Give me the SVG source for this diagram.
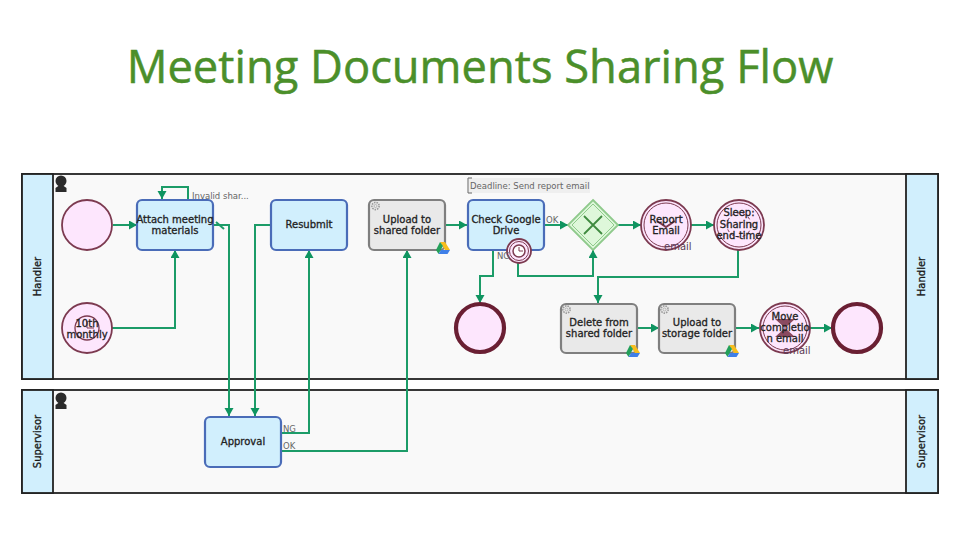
<svg xmlns="http://www.w3.org/2000/svg" width="960" height="540" viewBox="0 0 960 540">
<style>
text{font-family:"DejaVu Sans",sans-serif;fill:#222}
.title{font-family:"Open Sans","Noto Sans",sans-serif;font-size:45.300px;fill:#4b8f2a;text-anchor:middle;stroke:#4b8f2a;stroke-width:.5}
.lane{fill:#f9f9f9;stroke:#222;stroke-width:1.800}
.head{fill:#d1effd;stroke:#222;stroke-width:1.800}
.hl{font-size:10px;text-anchor:middle;stroke:#111;stroke-width:.3}
.task{fill:#d1effd;stroke:#4a6cb8;stroke-width:2.200}
.auto{fill:#e9e9e9;stroke:#7f7f7f;stroke-width:2.200}
.t{font-size:10px;text-anchor:middle;stroke:#222;stroke-width:.3}
.s{font-size:8.500px;fill:#666}
.ev{fill:#fde6fd;stroke:#7c3a50;stroke-width:1.800}
.end{fill:#fde6fd;stroke:#6a1f33;stroke-width:4.200}
.c{fill:none;stroke:#1c9c68;stroke-width:2}
.gw{fill:#def7da;stroke:#8fca8c;stroke-width:1.800}
</style>
<defs>
<marker id="a" markerUnits="userSpaceOnUse" markerWidth="10" markerHeight="10" refX="8" refY="4.500" orient="auto"><path d="M0 0L8 4.500L0 9z" fill="#0f9460"/></marker>
<g id="person"><circle cx="0" cy="-3" r="5.500" fill="#2b2b2b"/><path d="M-5.500 8V4L-2 1.500H2L5.500 4V8z" fill="#2b2b2b"/></g>
<g id="gear"><circle r="3.600" fill="none" stroke="#999" stroke-width="1.600" stroke-dasharray="1.500 1"/><circle r="1.500" fill="none" stroke="#aaa" stroke-width=".8"/></g>
<g id="drive"><path d="M-3-6H2L7 2H2z" fill="#f7bd1d"/><path d="M-3-6L-7 2L-4.500 6L0-2z" fill="#23a05a"/><path d="M-4.500 6H4.500L7 2H-2z" fill="#3f7fe8"/></g>
</defs>
<text class="title" x="480" y="83">Meeting Documents Sharing Flow</text>
<g id="lane-handler">
<rect class="lane" x="22" y="174" width="916" height="205"/>
<rect class="head" x="22" y="174" width="31" height="205"/>
<rect class="head" x="906" y="174" width="32" height="205"/>
<text class="hl" transform="translate(41 276.500) rotate(-90)">Handler</text>
<text class="hl" transform="translate(925 276.500) rotate(-90)">Handler</text>
<use href="#person" x="61" y="184"/>
</g>
<g id="lane-supervisor">
<rect class="lane" x="22" y="390" width="916" height="103"/>
<rect class="head" x="22" y="390" width="31" height="103"/>
<rect class="head" x="906" y="390" width="32" height="103"/>
<text class="hl" transform="translate(41 441.500) rotate(-90)">Supervisor</text>
<text class="hl" transform="translate(925 441.500) rotate(-90)">Supervisor</text>
<use href="#person" x="61" y="401"/>
</g>
<g id="connectors">
<path class="c" marker-end="url(#a)" d="M113 225H137"/>
<path class="c" marker-end="url(#a)" d="M112 328H175V250"/>
<path class="c" marker-end="url(#a)" d="M188 199V187H162V199"/>
<path class="c" marker-end="url(#a)" d="M214 225H229V416"/>
<path class="c" d="M216 222L224 229"/>
<path class="c" marker-end="url(#a)" d="M271 225H255V416"/>
<path class="c" marker-end="url(#a)" d="M281 433H309V250"/>
<path class="c" marker-end="url(#a)" d="M281 451H407V250"/>
<path class="c" marker-end="url(#a)" d="M446 225H467"/>
<path class="c" marker-end="url(#a)" d="M544 225H568"/>
<path class="c" marker-end="url(#a)" d="M493 250V276H480V303"/>
<path class="c" marker-end="url(#a)" d="M518 263V276H593V250"/>
<path class="c" marker-end="url(#a)" d="M618 225H641"/>
<path class="c" marker-end="url(#a)" d="M691 225H714"/>
<path class="c" marker-end="url(#a)" d="M738 250V277H598V303"/>
<path class="c" marker-end="url(#a)" d="M637 328H659"/>
<path class="c" marker-end="url(#a)" d="M735 328H759"/>
<path class="c" marker-end="url(#a)" d="M810 328H832"/>
</g>
<g id="start1"><circle class="ev" cx="87" cy="225" r="25"/></g>
<g id="timer-10th"><circle class="ev" cx="87" cy="328" r="25"/><circle cx="87" cy="328" r="12" fill="none" stroke="#7c3a50" stroke-width="1.300"/><path d="M87 321V328H94" fill="none" stroke="#7c3a50"/><text class="t" x="87" y="327">10th</text><text class="t" x="87" y="338">monthly</text></g>
<g id="attach"><rect class="task" x="137" y="200" width="76" height="50" rx="5"/><text class="t" x="175" y="223">Attach meeting</text><text class="t" x="175" y="234">materials</text></g>
<text class="s" x="192" y="199">Invalid shar...</text>
<g id="resubmit"><rect class="task" x="271" y="200" width="76" height="50" rx="5"/><text class="t" x="309" y="228">Resubmit</text></g>
<g id="upload-shared"><rect class="auto" x="369" y="200" width="76" height="50" rx="5"/><use href="#gear" x="375.500" y="206"/><text class="t" x="407" y="223">Upload to</text><text class="t" x="407" y="234">shared folder</text><use href="#drive" x="443" y="248"/></g>
<g id="check-drive"><rect class="task" x="468" y="200" width="76" height="50" rx="5"/><text class="t" x="506" y="223">Check Google</text><text class="t" x="506" y="234">Drive</text></g>
<g id="deadline"><rect x="469" y="178" width="121" height="15" fill="#efefef"/><path d="M472 178H468V193H472" fill="none" stroke="#666"/><text class="s" x="470" y="189">Deadline: Send report email</text></g>
<g id="boundary-timer"><circle cx="519" cy="251" r="12" fill="#fde6fd" stroke="#7c3a50" stroke-width="1.800"/><circle cx="519" cy="251" r="9.500" fill="none" stroke="#7c3a50"/><circle cx="519" cy="251" r="6" fill="#fff" stroke="#7c3a50" stroke-width="1.500"/><path d="M519 247V251H523" fill="none" stroke="#7c3a50"/></g>
<text class="s" x="546" y="223">OK</text>
<text class="s" x="497" y="259">NG</text>
<g id="gateway"><path class="gw" d="M593 200L618 225L593 250L568 225z"/><path d="M593 204L614 225L593 246L572 225z" fill="none" stroke="#8fca8c"/><path d="M584 216L602 234M602 216L584 234" stroke="#3f8a3f" stroke-width="1.800"/></g>
<g id="end1"><circle class="end" cx="480" cy="328" r="24"/></g>
<g id="report-email"><circle class="ev" cx="666" cy="225" r="25"/><circle cx="666" cy="225" r="22" fill="none" stroke="#7c3a50"/><path d="M657 221L666 227L675 221" fill="none" stroke="#7c3a50" stroke-width="2"/><text class="t" x="666" y="223">Report</text><text class="t" x="666" y="234">Email</text><text class="s" x="664" y="250" style="font-size:10px;fill:#5a3a55">email</text></g>
<g id="sleep"><circle class="ev" cx="739" cy="225" r="25"/><circle cx="739" cy="225" r="22" fill="none" stroke="#7c3a50"/><circle cx="739" cy="225" r="12" fill="none" stroke="#7c3a50" stroke-dasharray="3 3"/><text class="t" x="739" y="216">Sleep:</text><text class="t" x="739" y="228">Sharing</text><text class="t" x="739" y="239">end-time</text></g>
<g id="delete-shared"><rect class="auto" x="561" y="304" width="76" height="49" rx="5"/><use href="#gear" x="566.500" y="309.500"/><text class="t" x="599" y="326">Delete from</text><text class="t" x="599" y="337">shared folder</text><use href="#drive" x="633" y="351"/></g>
<g id="upload-storage"><rect class="auto" x="659" y="304" width="76" height="49" rx="5"/><use href="#gear" x="664.500" y="309.500"/><text class="t" x="697" y="326">Upload to</text><text class="t" x="697" y="337">storage folder</text><use href="#drive" x="732" y="351"/></g>
<g id="move-email"><circle class="ev" cx="785" cy="328" r="25"/><circle cx="785" cy="328" r="22" fill="none" stroke="#7c3a50"/><path d="M775 319H795L785 328L795 337H775L785 328z" fill="#8a4a60"/><text class="t" x="785" y="320">Move</text><text class="t" x="785" y="331">completio</text><text class="t" x="785" y="342">n email</text><text class="s" x="783" y="354" style="font-size:10px;fill:#5a3a55">email</text></g>
<g id="end2"><circle class="end" cx="857" cy="328" r="24"/></g>
<g id="approval"><rect class="task" x="205" y="417" width="76" height="50" rx="5"/><text class="t" x="243" y="445">Approval</text></g>
<text class="s" x="283" y="432">NG</text>
<text class="s" x="283" y="449">OK</text>
</svg>
